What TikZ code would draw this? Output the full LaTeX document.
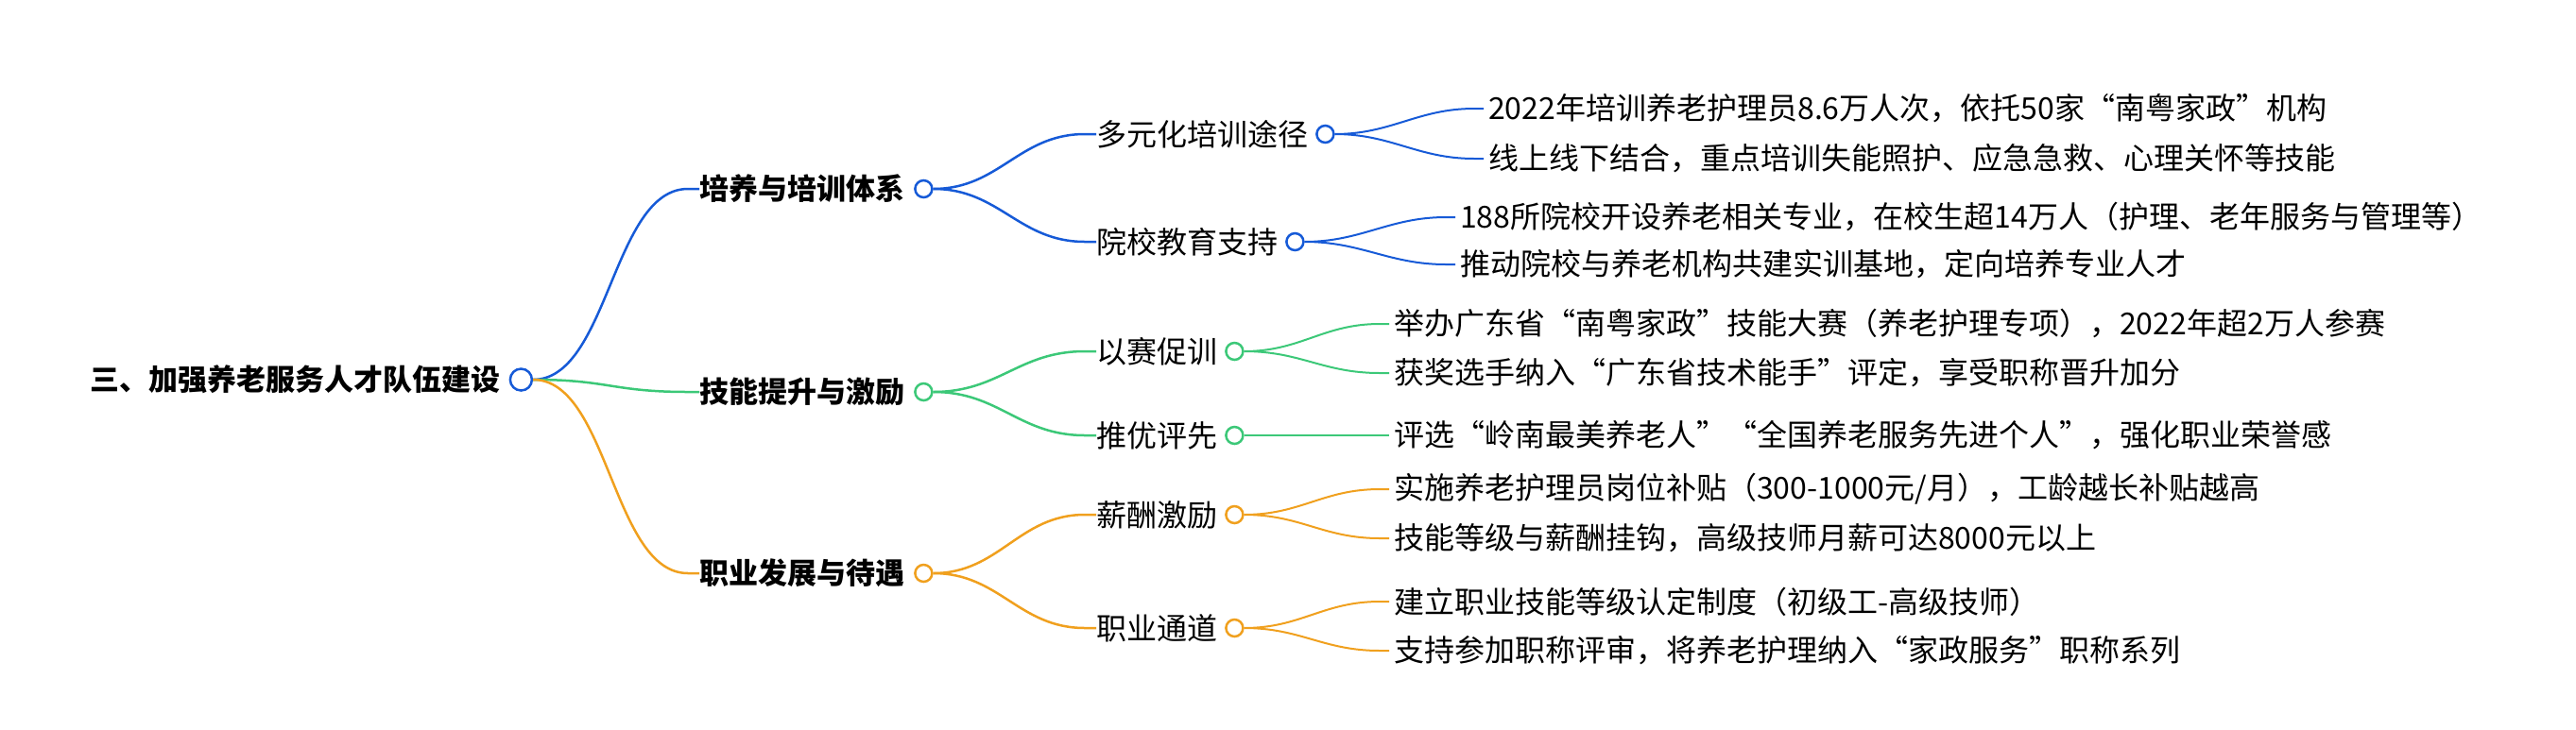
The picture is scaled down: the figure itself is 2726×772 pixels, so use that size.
\documentclass[tikz,border=0pt]{standalone}
\usepackage{fontspec}
\setmainfont{Noto Sans CJK SC}
\definecolor{cb}{RGB}{22,90,215}
\definecolor{cg}{RGB}{60,200,120}
\definecolor{co}{RGB}{240,160,30}
\begin{document}
\begin{tikzpicture}[x=1pt,y=-1pt,
  txt/.style={anchor=west,inner sep=0pt,font=\fontsize{32}{34}\selectfont},
  btxt/.style={txt,font=\fontsize{31}{34}\selectfont\bfseries},
  dot/.style={circle,draw=#1,fill=white,line width=2.5pt,minimum size=18pt,inner sep=0pt},
  ed/.style={draw=#1,line width=2.5pt}]
\useasboundingbox (0,0) rectangle (2726,772);
% root
\node[btxt] (r) at (95,402) {三、加强养老服务人才队伍建设};
\node[dot=cb,minimum size=23pt] (rc) at ([xshift=22pt]r.east) {};
% level1
\node[btxt] (a) at (740,200) {培养与培训体系};
\node[btxt] (b) at (740,415) {技能提升与激励};
\node[btxt] (c) at (740,607) {职业发展与待遇};
\node[dot=cb] (ac) at ([xshift=20pt]a.east) {};
\node[dot=cg] (bc) at ([xshift=20pt]b.east) {};
\node[dot=co] (cc) at ([xshift=20pt]c.east) {};
\foreach \n/\col in {a/cb,b/cg,c/co}
  \draw[ed=\col] (rc.east) .. controls +(80,0) and +(-80,0) .. ([xshift=-12pt]\n.west) -- (\n.west);
% level2
\node[txt] (a1) at (1160,142) {多元化培训途径};
\node[txt] (a2) at (1160,256) {院校教育支持};
\node[txt] (b1) at (1160,372) {以赛促训};
\node[txt] (b2) at (1160,461) {推优评先};
\node[txt] (c1) at (1160,545) {薪酬激励};
\node[txt] (c2) at (1160,665) {职业通道};
\node[dot=cb] (a1c) at ([xshift=18pt]a1.east) {};
\node[dot=cb] (a2c) at ([xshift=18pt]a2.east) {};
\node[dot=cg] (b1c) at ([xshift=18pt]b1.east) {};
\node[dot=cg] (b2c) at ([xshift=18pt]b2.east) {};
\node[dot=co] (c1c) at ([xshift=18pt]c1.east) {};
\node[dot=co] (c2c) at ([xshift=18pt]c2.east) {};
\foreach \p/\n/\col in {ac/a1/cb,ac/a2/cb,bc/b1/cg,bc/b2/cg,cc/c1/co,cc/c2/co}
  \draw[ed=\col] (\p.east) .. controls +(70,0) and +(-70,0) .. ([xshift=-12pt]\n.west) -- (\n.west);
% leaves
\node[txt] (l1) at (1575,115) {2022年培训养老护理员8.6万人次，依托50家“南粤家政”机构};
\node[txt] (l2) at (1575,168) {线上线下结合，重点培训失能照护、应急急救、心理关怀等技能};
\node[txt] (l3) at (1545,230) {188所院校开设养老相关专业，在校生超14万人（护理、老年服务与管理等）};
\node[txt] (l4) at (1545,280) {推动院校与养老机构共建实训基地，定向培养专业人才};
\node[txt] (l5) at (1475,343) {举办广东省“南粤家政”技能大赛（养老护理专项），2022年超2万人参赛};
\node[txt] (l6) at (1475,395) {获奖选手纳入“广东省技术能手”评定，享受职称晋升加分};
\node[txt] (l7) at (1475,461) {评选“岭南最美养老人”“全国养老服务先进个人”，强化职业荣誉感};
\node[txt] (l8) at (1475,518) {实施养老护理员岗位补贴（300-1000元/月），工龄越长补贴越高};
\node[txt] (l9) at (1475,570) {技能等级与薪酬挂钩，高级技师月薪可达8000元以上};
\node[txt] (l10) at (1475,637) {建立职业技能等级认定制度（初级工-高级技师）};
\node[txt] (l11) at (1475,689) {支持参加职称评审，将养老护理纳入“家政服务”职称系列};
\foreach \p/\n/\col in {a1c/l1/cb,a1c/l2/cb,a2c/l3/cb,a2c/l4/cb,b1c/l5/cg,b1c/l6/cg,b2c/l7/cg,c1c/l8/co,c1c/l9/co,c2c/l10/co,c2c/l11/co}
  \draw[ed=\col,line width=2pt] (\p.east) .. controls +(60,0) and +(-60,0) .. ([xshift=-15pt]\n.west) -- ([xshift=-5pt]\n.west);
\end{tikzpicture}
\end{document}
